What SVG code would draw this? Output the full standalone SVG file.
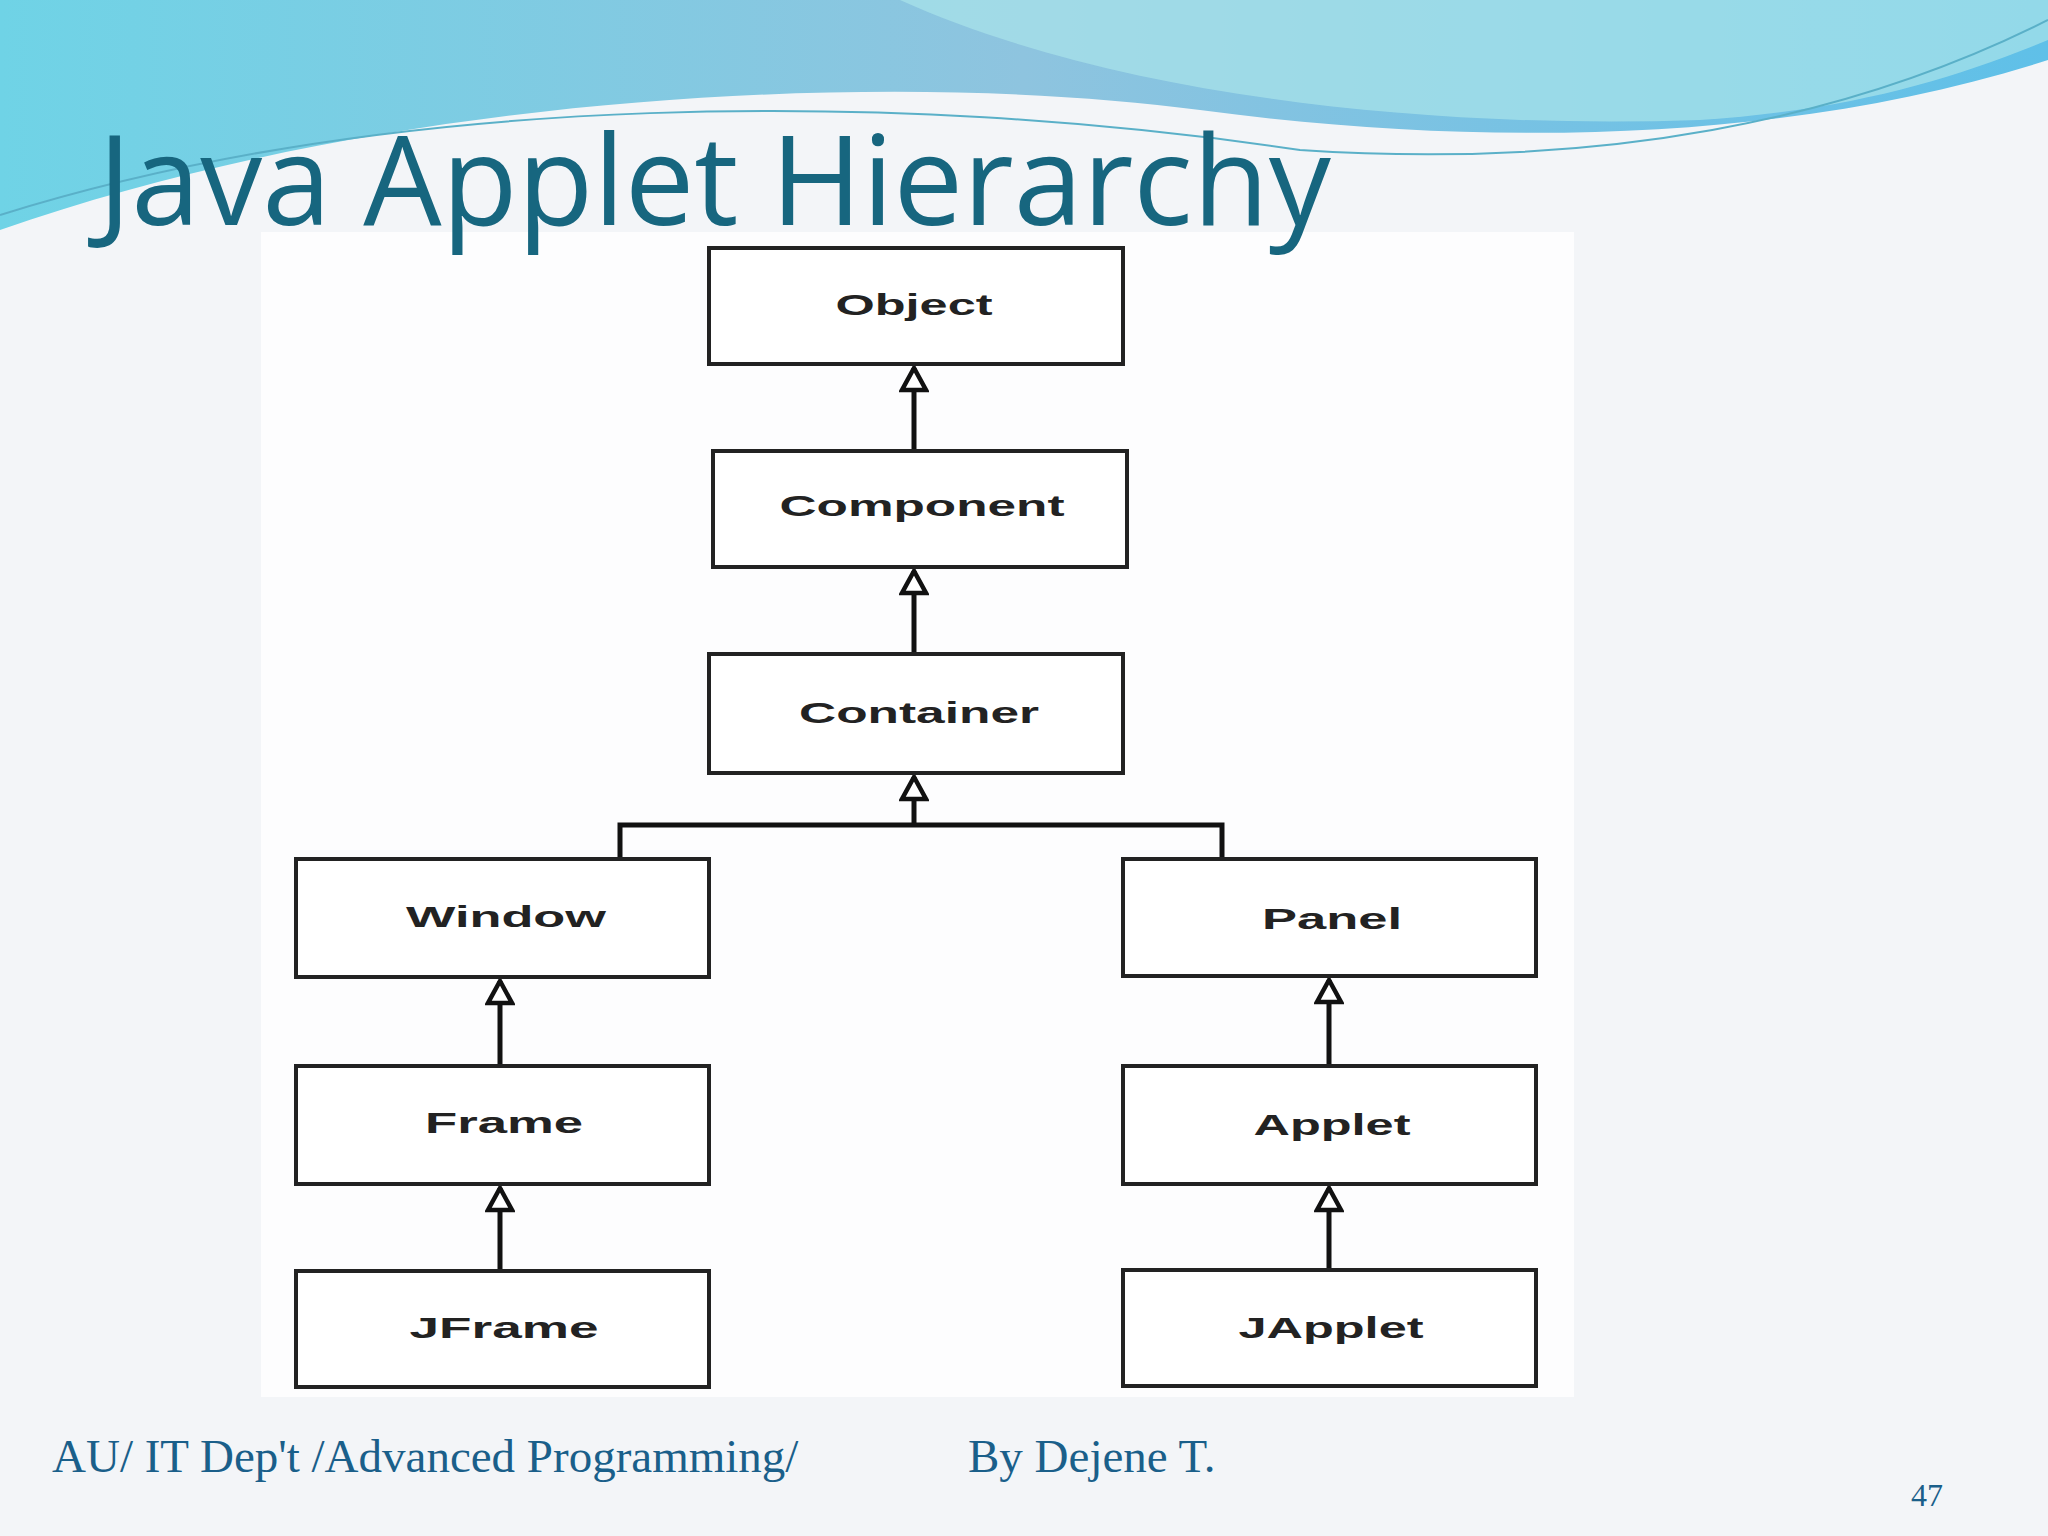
<svg xmlns="http://www.w3.org/2000/svg" width="2048" height="1536" viewBox="0 0 2048 1536">
<defs>
<linearGradient id="wave" x1="0" y1="0" x2="1" y2="0">
<stop offset="0" stop-color="#6fd3e6"/><stop offset="0.5" stop-color="#8ec4df"/><stop offset="1" stop-color="#5fc0e8"/>
</linearGradient>
<marker id="tri" markerWidth="30" markerHeight="30" refX="26" refY="15" orient="auto" markerUnits="userSpaceOnUse" viewBox="0 0 30 30">
<path d="M26,15 L4,3 L4,27 Z" fill="#fff" stroke="#111" stroke-width="4.5" stroke-linejoin="miter"/>
</marker>
<style>
.box{fill:#fff;stroke:#222;stroke-width:4}
.lbl{font-family:"Liberation Sans",Arial,sans-serif;font-size:30px;font-weight:bold;fill:#222;text-anchor:middle}
.ln{fill:none;stroke:#111;stroke-width:5}
.ft{font-family:"Liberation Serif",serif;font-size:47px;fill:#1a5f8a}
</style>
</defs>
<rect width="2048" height="1536" fill="#f3f5f8"/>
<path d="M0,0 H2048 V60 C1800,140 1500,150 1200,110 C900,70 400,90 0,230 Z" fill="url(#wave)"/>
<path d="M900,0 C1100,90 1400,130 1700,120 C1850,110 1950,80 2048,40 V0 Z" fill="#a9e4ea" opacity="0.7"/>
<path d="M0,215 C400,90 900,90 1300,150 C1600,170 1850,120 2048,20" fill="none" stroke="#5ab0c8" stroke-width="2"/>
<rect x="261" y="232" width="1313" height="1165" fill="#fdfdfe"/>
<text x="98" y="225" font-family="'Open Sans','Liberation Sans',sans-serif" font-size="124" fill="#17667f">Java Applet Hierarchy</text>
<g id="connectors">
<line class="ln" x1="914" y1="451" x2="914" y2="368" marker-end="url(#tri)"/>
<line class="ln" x1="914" y1="654" x2="914" y2="571" marker-end="url(#tri)"/>
<line class="ln" x1="914" y1="825" x2="914" y2="777" marker-end="url(#tri)"/>
<polyline class="ln" points="620,859 620,825 1222,825 1222,859"/>
<line class="ln" x1="500" y1="1066" x2="500" y2="981" marker-end="url(#tri)"/>
<line class="ln" x1="500" y1="1271" x2="500" y2="1188" marker-end="url(#tri)"/>
<line class="ln" x1="1329" y1="1066" x2="1329" y2="980" marker-end="url(#tri)"/>
<line class="ln" x1="1329" y1="1270" x2="1329" y2="1188" marker-end="url(#tri)"/>
</g>
<g id="object"><rect class="box" x="709" y="248" width="414" height="116"/><text class="lbl" x="914" y="315" textLength="157" lengthAdjust="spacingAndGlyphs">Object</text></g>
<g id="component"><rect class="box" x="713" y="451" width="414" height="116"/><text class="lbl" x="922" y="516" textLength="285" lengthAdjust="spacingAndGlyphs">Component</text></g>
<g id="container"><rect class="box" x="709" y="654" width="414" height="119"/><text class="lbl" x="919" y="723" textLength="240" lengthAdjust="spacingAndGlyphs">Container</text></g>
<g id="window"><rect class="box" x="296" y="859" width="413" height="118"/><text class="lbl" x="506" y="927" textLength="200" lengthAdjust="spacingAndGlyphs">Window</text></g>
<g id="panel"><rect class="box" x="1123" y="859" width="413" height="117"/><text class="lbl" x="1332" y="929" textLength="140" lengthAdjust="spacingAndGlyphs">Panel</text></g>
<g id="frame"><rect class="box" x="296" y="1066" width="413" height="118"/><text class="lbl" x="504" y="1133" textLength="158" lengthAdjust="spacingAndGlyphs">Frame</text></g>
<g id="applet"><rect class="box" x="1123" y="1066" width="413" height="118"/><text class="lbl" x="1332" y="1135" textLength="157" lengthAdjust="spacingAndGlyphs">Applet</text></g>
<g id="jframe"><rect class="box" x="296" y="1271" width="413" height="116"/><text class="lbl" x="504" y="1338" textLength="189" lengthAdjust="spacingAndGlyphs">JFrame</text></g>
<g id="japplet"><rect class="box" x="1123" y="1270" width="413" height="116"/><text class="lbl" x="1331" y="1338" textLength="185" lengthAdjust="spacingAndGlyphs">JApplet</text></g>
<text class="ft" x="52" y="1472">AU/ IT Dep't /Advanced Programming/</text>
<text class="ft" x="968" y="1472">By Dejene T.</text>
<text x="1911" y="1506" font-family="'Liberation Serif',serif" font-size="32" fill="#1a5f8a">47</text>
</svg>
